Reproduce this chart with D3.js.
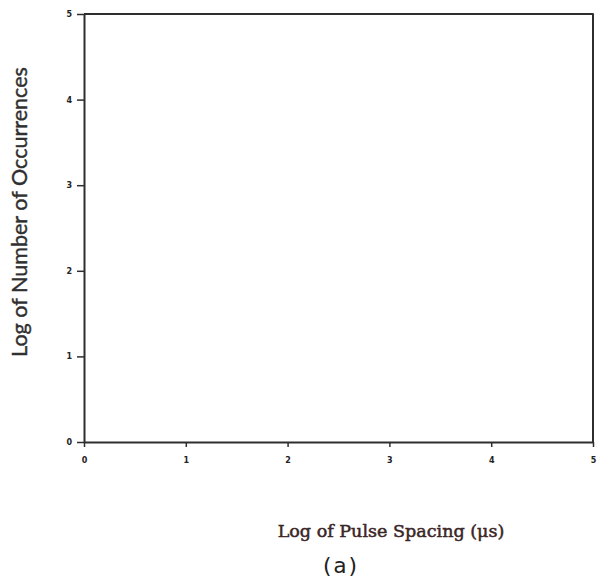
<!DOCTYPE html>
<html>
<head>
<meta charset="utf-8">
<script src="https://cdn.jsdelivr.net/npm/d3@7"></script>
<style>
  html, body { margin: 0; padding: 0; background: #fff; }
  svg { display: block; }
</style>
</head>
<body>
<svg id="chart" width="597" height="588"></svg>
<script>
// Axis extents and tick labels (log10 scales)
const xDomain = [0, 5];
const yDomain = [0, 5];
const xTicks = [0, 1, 2, 3, 4, 5];
const yTicks = [0, 1, 2, 3, 4, 5];
const xTitle = "Log of Pulse Spacing (\u03bcs)";
const yTitle = "Log of Number of Occurrences";
const panelLabel = "(a)";

const svg = d3.select("#chart");
const ink = "#2e2e2e";

const x = d3.scaleLinear().domain(xDomain).range([84, 593]);
const y = d3.scaleLinear().domain(yDomain).range([442, 14]);

// Bottom axis with short downward ticks
const gx = svg.append("g")
  .attr("transform", `translate(0,${y(0)})`)
  .call(d3.axisBottom(x).tickValues(xTicks).tickSizeInner(5).tickSizeOuter(0).tickPadding(10)
    .tickFormat(d3.format("d")));

// Left axis with short outward ticks
const gy = svg.append("g")
  .attr("transform", `translate(${x(0)},0)`)
  .call(d3.axisLeft(y).tickValues(yTicks).tickSizeInner(7).tickSizeOuter(0).tickPadding(5)
    .tickFormat(d3.format("d")));

[gx, gy].forEach(g => {
  g.select(".domain").attr("stroke", ink).attr("stroke-width", 2);
  g.selectAll(".tick line").attr("stroke", ink).attr("stroke-width", 1.5);
  g.selectAll(".tick text")
    .attr("fill", "#222")
    .attr("font-family", "DejaVu Sans, sans-serif")
    .attr("font-weight", "bold")
    .attr("font-size", 8);
});

// Top and right frame lines closing the plot box
svg.append("path")
  .attr("d", `M${x(0)},${y(5)} L${x(5)},${y(5)} L${x(5)},${y(0)}`)
  .attr("fill", "none")
  .attr("stroke", ink)
  .attr("stroke-width", 2)
  .attr("stroke-linejoin", "round");

// Scale a label's font size so the text spans a given length
function fitText(sel, length, baseSize) {
  sel.attr("font-size", baseSize);
  const w = sel.node().getComputedTextLength();
  sel.attr("font-size", baseSize * length / w);
}

// Axis titles
const yLab = svg.append("text")
  .attr("transform", "translate(27,212) rotate(-90)")
  .attr("text-anchor", "middle")
  .attr("font-family", "Lato, sans-serif")
  .attr("fill", "#303030")
  .attr("stroke", "#303030")
  .attr("stroke-width", 0.4)
  .text(yTitle);
fitText(yLab, 290, 16);

const xLab = svg.append("text")
  .attr("x", 391)
  .attr("y", 537)
  .attr("text-anchor", "middle")
  .attr("font-family", "DejaVu Serif, serif")
  .attr("fill", "#3a2626")
  .attr("stroke", "#3a2626")
  .attr("stroke-width", 0.5)
  .text(xTitle);
fitText(xLab, 227, 14);

svg.append("text")
  .attr("x", 340)
  .attr("y", 573)
  .attr("text-anchor", "middle")
  .attr("font-family", "DejaVu Sans Mono, monospace")
  .attr("font-size", 22)
  .attr("fill", "#222")
  .text(panelLabel);
</script>
</body>
</html>
